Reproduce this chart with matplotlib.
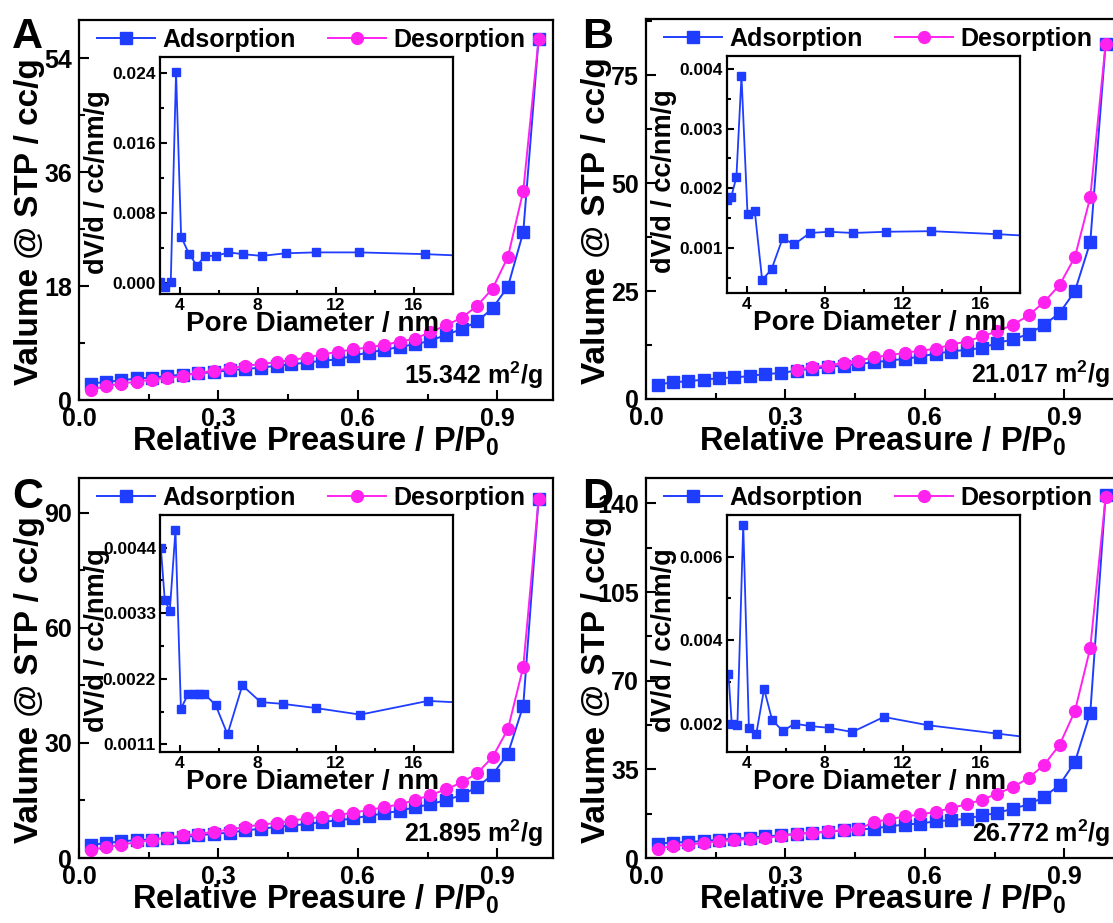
import numpy as np
import matplotlib
matplotlib.use("Agg")
import matplotlib.pyplot as plt
from matplotlib.ticker import MultipleLocator, FixedLocator, FormatStrFormatter

plt.rcParams.update({
    "font.family": "Liberation Sans",
    "font.weight": "bold",
    "axes.labelweight": "bold",
    "mathtext.fontset": "custom",
    "mathtext.rm": "Liberation Sans:bold",
    "mathtext.bf": "Liberation Sans:bold",
    "mathtext.default": "rm",
    "axes.linewidth": 1.6,
})

BLUE = "#1f3dff"
PINK = "#ff22ee"

# relative pressure points of the isotherms
P_REL = [0.025, 0.058, 0.091, 0.124, 0.157, 0.190, 0.223, 0.257, 0.290, 0.324,
         0.358, 0.391, 0.425, 0.457, 0.490, 0.523, 0.557, 0.590, 0.623, 0.656,
         0.690, 0.723, 0.756, 0.790, 0.824, 0.857, 0.890, 0.923, 0.956, 0.989]

# adsorbed volume (cc/g)
A_ADS = [2.6, 2.85, 3.1, 3.4, 3.5, 3.8, 4.0, 4.2, 4.4, 4.7, 4.9, 5.1, 5.4, 5.65, 5.9,
         6.2, 6.4, 7.0, 7.5, 7.9, 8.4, 8.8, 9.35, 10.3, 11.2, 12.4, 14.5, 17.9, 26.5, 57.0]
A_DES = [1.6, 2.2, 2.6, 2.9, 3.2, 3.5, 3.8, 4.3, 4.6, 5.0, 5.4, 5.65, 6.0, 6.3, 6.7,
         7.2, 7.6, 8.0, 8.3, 8.7, 9.2, 9.7, 10.7, 11.8, 13.0, 14.9, 17.6, 22.6, 33.0, 57.0]
B_ADS = [3.3, 3.9, 4.1, 4.5, 4.8, 5.0, 5.3, 5.8, 6.0, 6.6, 7.0, 7.4, 7.75, 8.1, 8.5,
         8.9, 9.3, 9.8, 10.5, 11.0, 11.4, 11.8, 13.0, 13.8, 15.1, 17.2, 19.9, 25.0, 36.3, 82.2]
B_DES = [6.7, 7.4, 7.75, 8.4, 8.8, 9.7, 10.1, 10.7, 11.2, 11.6, 12.6, 13.3, 14.5, 15.7,
         17.2, 19.4, 22.5, 26.4, 32.9, 46.7, 82.2]  # desorption branch starts at P/P0 ~0.32
C_ADS = [3.4, 3.9, 4.3, 4.7, 4.8, 5.3, 5.4, 5.9, 6.3, 6.6, 7.2, 7.6, 8.1, 8.5, 8.8,
         9.4, 9.8, 10.3, 11.0, 11.6, 12.3, 13.2, 14.0, 15.1, 16.4, 18.5, 21.7, 27.2, 39.7, 93.6]
C_DES = [2.1, 2.8, 3.5, 4.1, 4.7, 5.3, 5.9, 6.3, 6.8, 7.4, 8.1, 8.7, 9.1, 9.7, 10.3,
         10.7, 11.2, 11.8, 12.5, 13.2, 14.0, 15.1, 16.4, 17.9, 19.7, 22.1, 26.3, 33.6, 49.8, 93.6]
D_ADS = [5.7, 6.1, 6.3, 6.7, 7.2, 7.6, 8.0, 8.6, 8.9, 9.6, 9.9, 10.3, 10.9, 11.3, 11.6,
         12.5, 13.2, 13.6, 14.5, 14.9, 15.5, 16.8, 17.8, 19.5, 21.2, 24.1, 28.9, 37.9, 57.2, 143.2]
D_DES = [3.7, 4.7, 5.3, 5.9, 6.7, 7.0, 7.6, 8.0, 8.6, 9.6, 10.0, 10.5, 10.9, 11.3, 14.2,
         15.3, 16.4, 17.2, 18.2, 19.7, 21.2, 23.0, 25.4, 28.0, 31.7, 36.8, 44.7, 58.0, 82.9, 142.5]

# BJH pore size distributions (pore diameter nm, dV/d)
A_D = [3.0, 3.26, 3.55, 3.82, 4.08, 4.49, 4.89, 5.31, 5.86, 6.51, 7.25, 8.21, 9.45, 11.0, 13.2, 16.6, 21.0]
A_PSD = [0.0001, -0.0004, 0.00015, 0.0241, 0.0053, 0.0033, 0.0020, 0.0031, 0.0031, 0.0035,
         0.0033, 0.0031, 0.0034, 0.0035, 0.0035, 0.0033, 0.0029]
B_D = [3.0, 3.22, 3.48, 3.74, 4.05, 4.42, 4.80, 5.28, 5.85, 6.45, 7.25, 8.23, 9.45, 11.15, 13.48, 16.83, 21.0]
B_PSD = [0.00181, 0.00186, 0.00219, 0.00388, 0.00156, 0.00162, 0.00046, 0.00064, 0.00116,
         0.00106, 0.00125, 0.00127, 0.00125, 0.00127, 0.00128, 0.00123, 0.00116]
C_D = [3.04, 3.24, 3.50, 3.79, 4.07, 4.45, 4.78, 5.0, 5.27, 5.85, 6.46, 7.22, 8.16, 9.31,
       11.0, 13.27, 16.74, 21.0]
C_PSD = [0.0044, 0.00353, 0.00334, 0.00469, 0.00170, 0.00195, 0.00195, 0.00195, 0.00195,
         0.00176, 0.00127, 0.00209, 0.00181, 0.00178, 0.00171, 0.0016, 0.00183, 0.00176]
D_D = [3.07, 3.24, 3.53, 3.83, 4.12, 4.50, 4.90, 5.31, 5.86, 6.46, 7.27, 8.22, 9.43, 11.04,
       13.33, 16.87, 21.0]
D_PSD = [0.0032, 0.0020, 0.00197, 0.00676, 0.0019, 0.00176, 0.00283, 0.00209, 0.00182,
         0.0020, 0.00194, 0.0019, 0.0018, 0.00216, 0.00196, 0.00176, 0.00153]

AREAS = ["15.342", "21.017", "21.895", "26.772"]

W, H = 1113, 923
fig = plt.figure(figsize=(W / 100, H / 100), dpi=100)


def px_rect(left, top, width, height):
    return [left / W, 1 - (top + height) / H, width / W, height / H]


def style_ticks(ax, size, pad, major=6, minor=3.5):
    ax.tick_params(which="both", direction="in", top=False, right=False, width=1.5)
    ax.tick_params(which="major", length=major, labelsize=size, pad=pad)
    ax.tick_params(which="minor", length=minor)
    for lab in ax.get_xticklabels() + ax.get_yticklabels():
        lab.set_fontweight("bold")


def panel(rect, letter, letter_xy, ads_x, ads, des_x, des, ymax, ystep, area,
          d, psd, ilim, iticks, ifmt):
    ax = fig.add_axes(rect)
    ax.plot(ads_x, ads, "-s", color=BLUE, lw=1.4, ms=8.5, label="Adsorption")
    ax.plot(des_x, des, "-o", color=PINK, lw=1.4, ms=8.5, label="Desorption")
    ax.set_xlim(0, 1.02)
    ax.set_ylim(0, ymax)
    ax.xaxis.set_major_locator(FixedLocator([0.0, 0.3, 0.6, 0.9]))
    ax.xaxis.set_minor_locator(MultipleLocator(0.15))
    ax.xaxis.set_major_formatter(FormatStrFormatter("%.1f"))
    ax.yaxis.set_major_locator(MultipleLocator(ystep))
    ax.yaxis.set_minor_locator(MultipleLocator(ystep / 2))
    style_ticks(ax, 18, 5, major=7, minor=4)
    ax.set_xlabel(r"Relative Preasure / P/P$_{0}$", fontsize=23.5, va="center")
    ax.xaxis.set_label_coords(0.5, -0.11)
    ax.set_ylabel("Valume @ STP / cc/g", fontsize=24, va="center")
    ax.yaxis.set_label_coords(-0.105, 0.47)
    ax.legend(loc="center", bbox_to_anchor=(0.49, 0.948), ncol=2, frameon=False,
              fontsize=18, handlelength=2.3, handletextpad=0.3, columnspacing=1.3,
              borderaxespad=0)
    ax.text(0.979, 0.065, f"{area} m$^{{2}}$/g", transform=ax.transAxes,
            ha="right", va="center", fontsize=18)
    fig.text(letter_xy[0] / W, 1 - letter_xy[1] / H, letter, fontsize=31,
             fontweight="bold", ha="left", va="top")

    # pore size distribution inset
    ins = ax.inset_axes([0.171, 0.28, 0.617, 0.623])
    ins.plot(d, psd, "-s", color=BLUE, lw=1.3, ms=5.5)
    ins.set_xlim(3, 18)
    ins.set_ylim(*ilim)
    ins.xaxis.set_major_locator(FixedLocator([4, 8, 12, 16]))
    ins.xaxis.set_minor_locator(MultipleLocator(2))
    ins.yaxis.set_major_locator(FixedLocator(iticks))
    step = iticks[1] - iticks[0]
    ins.yaxis.set_minor_locator(FixedLocator(
        [t + step / 2 for t in [iticks[0] - step] + list(iticks)]))
    ins.yaxis.set_major_formatter(FormatStrFormatter(ifmt))
    style_ticks(ins, 12.5, 3, major=5, minor=3)
    ins.set_xlabel("Pore Diameter / nm", fontsize=20, va="center")
    ins.xaxis.set_label_coords(0.52, -0.13)
    ins.set_ylabel("dV/d / cc/nm/g", fontsize=19.5, va="center")
    ins.yaxis.set_label_coords(-0.215, 0.47)
    return ax


panel(px_rect(79, 20, 474, 380), "A", (12, 17), P_REL, A_ADS, P_REL, A_DES, 60, 18,
      AREAS[0], A_D, A_PSD, (-0.0012, 0.0258), [0.0, 0.008, 0.016, 0.024], "%.3f")
panel(px_rect(646, 19, 474, 380), "B", (582, 17), P_REL, B_ADS, P_REL[9:], B_DES, 88, 25,
      AREAS[1], B_D, B_PSD, (0.00025, 0.00422), [0.001, 0.002, 0.003, 0.004], "%.3f")
panel(px_rect(79, 478, 474, 380), "C", (12, 477), P_REL, C_ADS, P_REL, C_DES, 99, 30,
      AREAS[2], C_D, C_PSD, (0.00098, 0.00495), [0.0011, 0.0022, 0.0033, 0.0044], "%.4f")
panel(px_rect(646, 478, 474, 380), "D", (582, 477), P_REL, D_ADS, P_REL, D_DES, 150, 35,
      AREAS[3], D_D, D_PSD, (0.00133, 0.0070), [0.002, 0.004, 0.006], "%.3f")

fig.savefig("out.png", dpi=100)
